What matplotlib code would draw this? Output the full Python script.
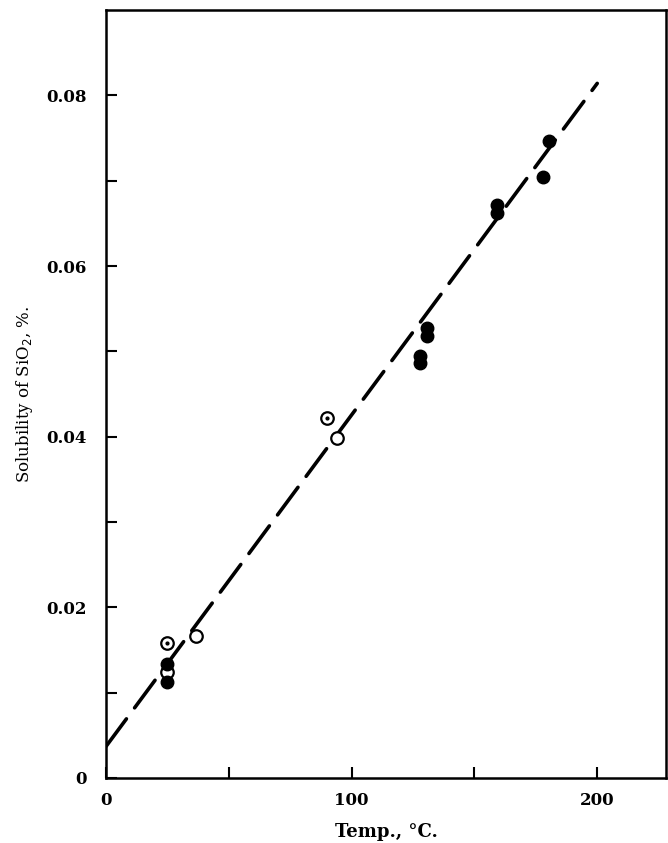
import matplotlib
matplotlib.use("Agg")
import matplotlib.pyplot as plt
import numpy as np

# data
filled_T = [25, 25, 128, 128, 130.5, 130.5, 159, 159, 178, 180.5]
filled_S = [0.0134, 0.0113, 0.0494, 0.0486, 0.0527, 0.0518, 0.0671, 0.0662, 0.0704, 0.0747]
open_T = [25, 36.5, 94]
open_S = [0.0124, 0.0166, 0.0399]
dot_T = [25, 90]
dot_S = [0.0158, 0.0422]
line_T = [0, 200]
line_S = [0.0037, 0.0814]
xticks_major = [0, 100, 200]
yticks_major = [0, 0.02, 0.04, 0.06, 0.08]
ytick_labels = ["0", "0.02", "0.04", "0.06", "0.08"]

plt.rcParams['font.family'] = ['DejaVu Serif']
fig = plt.figure(figsize=(6.68, 8.43), dpi=100)
ax = fig.add_axes([106/668, 65/843, 560/668, 768/843])

ax.plot(line_T, line_S, color='black', lw=2.6, dashes=(9.5, 3.8), dash_capstyle='round')
ax.plot(open_T, open_S, 'o', mfc='white', mec='black', mew=1.6, ms=9)
ax.plot(dot_T, dot_S, 'o', mfc='white', mec='black', mew=1.6, ms=9)
ax.plot(dot_T, dot_S, 'o', color='black', ms=2)
ax.plot(filled_T, filled_S, 'o', color='black', ms=9)

ax.set_xlim(0, 228)
ax.set_ylim(0, 0.09)
ax.set_xticks(xticks_major)
ax.set_xticks([50, 150], minor=True)
ax.set_yticks(yticks_major)
ax.set_yticklabels(ytick_labels)
ax.set_yticks([0.01, 0.03, 0.05, 0.07], minor=True)
ax.tick_params(which='both', direction='in', length=8, width=1.5, labelsize=12)
ax.tick_params(axis='y', pad=14)
ax.tick_params(axis='x', pad=10)
for lbl in ax.get_xticklabels() + ax.get_yticklabels():
    lbl.set_fontweight('bold')
for s in ax.spines.values():
    s.set_linewidth(1.8)

ax.set_xlabel("Temp., °C.", fontsize=13, fontweight='bold', labelpad=10)
ax.set_ylabel("Solubility of SiO$_2$, %.", fontsize=12, labelpad=8)

fig.savefig("out.png", dpi=100)
